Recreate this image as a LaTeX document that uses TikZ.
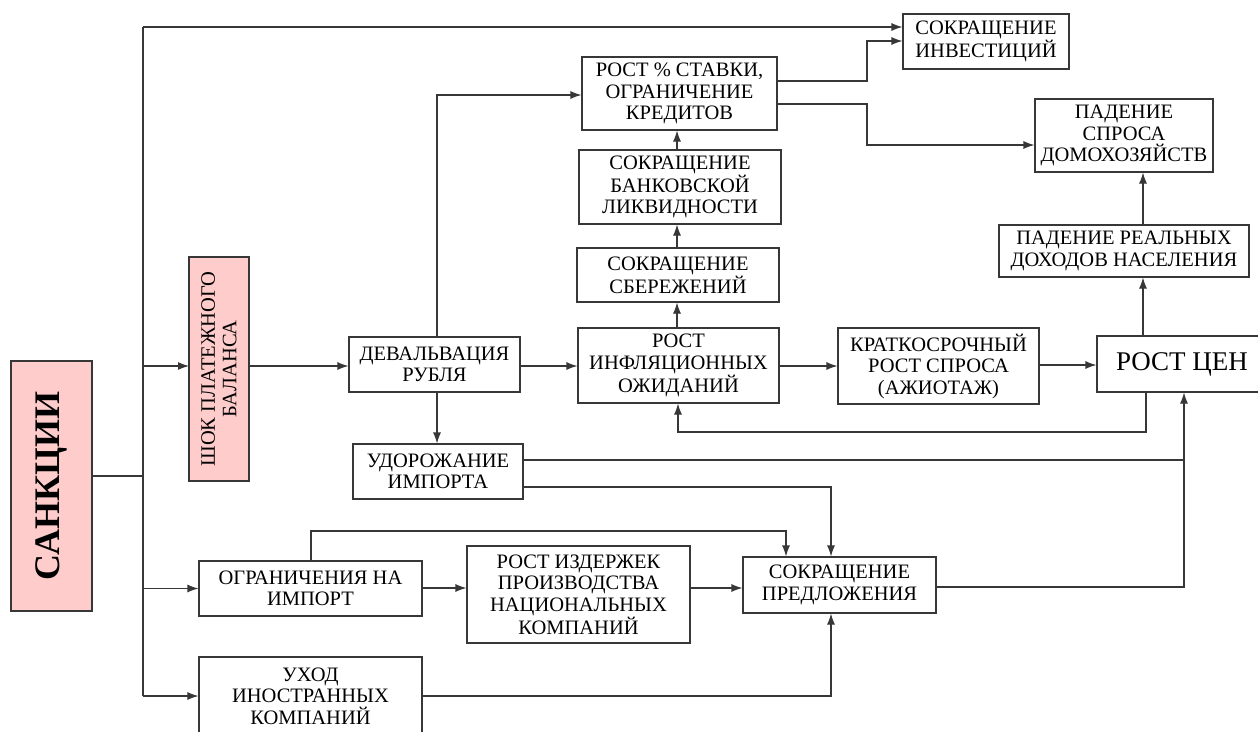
\documentclass[tikz,border=0pt]{standalone}
\usepackage{fontspec}
\setmainfont{Liberation Serif}
\usetikzlibrary{arrows.meta}
\definecolor{ln}{RGB}{55,55,55}
\definecolor{pinkbox}{RGB}{255,204,204}
\begin{document}
\begin{tikzpicture}[x=1pt,y=-1pt,
  box/.style={draw=ln,line width=1.1pt,rectangle,inner sep=0pt,align=center,
    font=\fontsize{20.5}{21.5}\selectfont},
  pbox/.style={box,fill=pinkbox},
  line/.style={draw=ln,line width=1.1pt},
  arr/.style={line,-{Latex[length=11pt,width=8pt]}}]
\clip (0,0) rectangle (1258,731);
\fill[white] (0,0) rectangle (1258,731);
% nodes
\node[pbox,minimum width=250,minimum height=81,rotate=90,font=\fontsize{36}{40}\selectfont\bfseries] (sank) at (51.5,486) {САНКЦИИ};
\node[pbox,minimum width=224,minimum height=60,rotate=90] (shok) at (219,369) {ШОК ПЛАТЕЖНОГО\\БАЛАНСА};
\node[box,minimum width=171,minimum height=55] (dev) at (434.5,364.5) {ДЕВАЛЬВАЦИЯ\\РУБЛЯ};
\node[box,minimum width=170,minimum height=55] (udor) at (438,471.5) {УДОРОЖАНИЕ\\ИМПОРТА};
\node[box,minimum width=201,minimum height=75] (infl) at (678.5,365.5) {РОСТ\\ИНФЛЯЦИОННЫХ\\ОЖИДАНИЙ};
\node[box,minimum width=202,minimum height=54] (sber) at (678,275) {СОКРАЩЕНИЕ\\СБЕРЕЖЕНИЙ};
\node[box,minimum width=202,minimum height=74] (bank) at (680,187) {СОКРАЩЕНИЕ\\БАНКОВСКОЙ\\ЛИКВИДНОСТИ};
\node[box,minimum width=195,minimum height=73] (stav) at (679.5,93.5) {РОСТ \% СТАВКИ,\\ОГРАНИЧЕНИЕ\\КРЕДИТОВ};
\node[box,minimum width=166,minimum height=55] (inv) at (986,41.5) {СОКРАЩЕНИЕ\\ИНВЕСТИЦИЙ};
\node[box,minimum width=178,minimum height=73] (dom) at (1124,135.5) {ПАДЕНИЕ\\СПРОСА\\ДОМОХОЗЯЙСТВ};
\node[box,minimum width=250,minimum height=52] (dohod) at (1124,251) {ПАДЕНИЕ РЕАЛЬНЫХ\\ДОХОДОВ НАСЕЛЕНИЯ};
\node[box,minimum width=201,minimum height=76] (krat) at (938.5,366) {КРАТКОСРОЧНЫЙ\\РОСТ СПРОСА\\(АЖИОТАЖ)};
\node[box,minimum width=170,minimum height=56,font=\fontsize{27}{30}\selectfont] (cen) at (1182,364) {РОСТ ЦЕН};
\node[box,minimum width=223,minimum height=55] (ogr) at (310.5,588.5) {ОГРАНИЧЕНИЯ НА\\ИМПОРТ};
\node[box,minimum width=223,minimum height=97] (izd) at (578.5,594.5) {РОСТ ИЗДЕРЖЕК\\ПРОИЗВОДСТВА\\НАЦИОНАЛЬНЫХ\\КОМПАНИЙ};
\node[box,minimum width=193,minimum height=56] (pred) at (839.5,585) {СОКРАЩЕНИЕ\\ПРЕДЛОЖЕНИЯ};
\node[box,minimum width=223,minimum height=78] (uhod) at (310.5,696) {УХОД\\ИНОСТРАННЫХ\\КОМПАНИЙ};
% trunk
\coordinate (ttop) at (143,27);
\coordinate (tmid) at (143,476);
\coordinate (tbot) at (143,696);
\draw[line] (92,476) -- (tmid);
\draw[line] (ttop) -- (tbot);
\draw[arr] (ttop) -- (inv.west |- ttop);
\draw[arr] (143,366) -- (189,366);
\draw[arr] (143,588.5) -- (ogr.west);
\draw[arr] (tbot) -- (uhod.west |- tbot);
% main chain
\draw[arr] (249,366) -- (dev.west |- 0,366);
\draw[arr] (dev.east |- 0,366) -- (infl.west |- 0,366);
\draw[arr] (infl.east |- 0,366) -- (krat.west |- 0,366);
\draw[arr] (krat.east |- 0,365) -- (cen.west |- 0,365);
\draw[arr] (dev.north -| 437,0) |- (stav.west |- 0,95);
\draw[arr] (dev.south -| 437,0) -- (udor.north -| 437,0);
\draw[arr] (infl.north -| 677,0) -- (sber.south -| 677,0);
\draw[arr] (sber.north -| 677,0) -- (bank.south -| 677,0);
\draw[arr] (bank.north -| 677,0) -- (stav.south -| 677,0);
\draw[arr] (stav.east |- 0,81) -- (867,81) -- (867,41) -- (inv.west |- 0,41);
\draw[arr] (stav.east |- 0,104) -- (867,104) -- (867,145) -- (dom.west |- 0,145);
\draw[arr] (cen.north -| 1143,0) -- (dohod.south -| 1143,0);
\draw[arr] (dohod.north -| 1143,0) -- (dom.south -| 1143,0);
\draw[arr] (cen.south -| 1146,0) -- (1146,432) -| (infl.south -| 678,0);
\draw[line] (udor.east |- 0,460) -- (1184,460);
\draw[arr] (pred.east |- 0,587) -| (cen.south -| 1184,0);
\draw[arr] (udor.east |- 0,487) -| (pred.north -| 831,0);
\draw[arr] (ogr.north -| 311,0) |- (786,531) -- (pred.north -| 786,0);
\draw[arr] (ogr.east |- 0,588) -- (izd.west |- 0,588);
\draw[arr] (izd.east |- 0,588) -- (pred.west |- 0,588);
\draw[arr] (uhod.east |- 0,696) -| (pred.south -| 831,0);
\end{tikzpicture}
\end{document}
